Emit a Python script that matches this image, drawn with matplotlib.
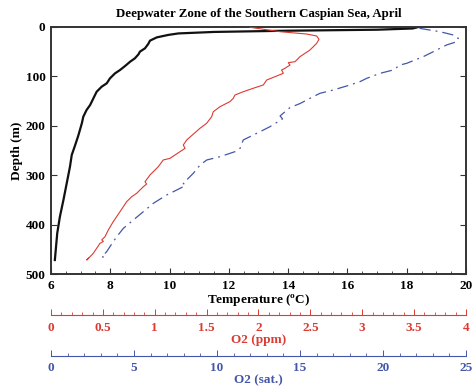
import matplotlib
matplotlib.use("Agg")
import matplotlib.pyplot as plt
from matplotlib import ticker

# Temperature profile (deg C vs depth m)
temp_c = [18.4, 18.2, 17.0, 14.0, 11.5, 10.3, 9.96, 9.57, 9.34, 9.28, 9.17, 9.0,
          8.95, 8.83, 8.67, 8.50, 8.33, 8.16, 7.99, 7.88, 7.71, 7.54, 7.43, 7.32,
          7.20, 7.09, 7.04, 6.92, 6.81, 6.70, 6.64, 6.53, 6.42, 6.30, 6.21, 6.17, 6.13]
temp_depth = [0, 3, 5.5, 7.5, 10, 13, 16, 21, 27.6, 34.4, 43.2, 49.9,
              55.4, 63.4, 70.2, 78.9, 87, 93.8, 103.9, 114, 120.8, 131, 144.4, 157.9,
              168, 181.5, 195, 220, 240, 259, 282.8, 316.4, 350, 384, 417.6, 444.7, 471.7]

# Dissolved oxygen (ppm)
o2_ppm = [1.918, 2.207, 2.464, 2.561, 2.583, 2.561, 2.496, 2.4, 2.352, 2.287, 2.304,
          2.255, 2.223, 2.239, 2.079, 2.046, 1.95, 1.853, 1.773, 1.757, 1.725, 1.629,
          1.564, 1.549, 1.5, 1.436, 1.308, 1.275, 1.292, 1.243, 1.147, 1.082, 1.034,
          0.954, 0.906, 0.922, 0.89, 0.826, 0.778, 0.729, 0.665, 0.6, 0.552, 0.52,
          0.489, 0.505, 0.472, 0.44, 0.408, 0.376, 0.344, 0.36]
o2_ppm_depth = [0.6, 9.5, 14.2, 18.2, 24.9, 33, 46.6, 60, 70.2, 72.2, 77,
                83.6, 87, 93.8, 107.3, 117.4, 124, 131, 137.7, 144.4, 151, 161.3,
                171.5, 181.5, 195, 205, 228.7, 238.9, 245.6, 252.4, 265.8, 269.2, 282.8,
                299.6, 313.2, 317.8, 323.3, 336.6, 343.5, 353.6, 373.9, 394, 411, 424.5,
                431, 434, 437.9, 448, 458, 465, 471.7, 468]

# Dissolved oxygen (saturation)
o2_sat = [22.2, 23.43, 24.24, 24.54, 24.44, 23.83, 23.03, 22.43, 21.43, 21.02, 20.62,
          19.82, 19.02, 18.61, 18.01, 17.01, 16.2, 15.6, 15.0, 14.4, 13.8, 13.95, 13.19,
          12.59, 11.58, 11.39, 11.08, 10.18, 9.38, 8.98, 8.57, 7.97, 8.1, 7.57, 6.97,
          6.16, 5.56, 4.96, 4.36, 3.96, 3.55, 3.35, 3.05, 3.4]
o2_sat_depth = [2.7, 9.5, 16.2, 22.9, 29.8, 36.4, 50, 60, 73.5, 77, 87,
                93.8, 103.9, 110.7, 117.4, 127.5, 134.3, 144.4, 155, 163, 180, 186, 201.8,
                212, 228.7, 245.6, 252.4, 262.5, 269.2, 279.4, 296.2, 316.4, 321, 330, 340,
                357, 373.9, 390.7, 407.5, 424.5, 444.7, 455, 465, 467]

temp_ticks = [6, 8, 10, 12, 14, 16, 18, 20]
depth_ticks = [0, 100, 200, 300, 400, 500]

RED = "#dc3a32"
BLUE = "#4456a8"

plt.rcParams["font.family"] = ["Liberation Serif", "DejaVu Serif"]
plt.rcParams["font.weight"] = "bold"
plt.rcParams["font.size"] = 9.5
plt.rcParams["axes.labelweight"] = "bold"
plt.rcParams["mathtext.default"] = "regular"

fig = plt.figure(figsize=(4.74, 3.89), dpi=100)
ax = fig.add_axes([0.1076, 0.2956, 0.8755, 0.6350])

ax.plot(temp_c, temp_depth, color="#111111", lw=1.6)
ax.set_xlim(6, 20)
ax.set_ylim(500, 0)
ax.set_xticks(temp_ticks)
ax.set_yticks(depth_ticks)
ax.xaxis.set_minor_locator(ticker.MultipleLocator(0.5))
ax.tick_params(direction="in", top=True, right=True, length=4, width=0.8,
               pad=4, color="#333333")
ax.tick_params(which="minor", direction="in", top=True, length=2, width=0.6,
               color="#333333")
for sp in ax.spines.values():
    sp.set_linewidth(1.4)
    sp.set_color("#333333")
ax.set_xlabel("Temperature ($^{o}$C)", labelpad=0)
ax.set_ylabel("Depth (m)", labelpad=2)
ax.set_title("Deepwater Zone of the Southern Caspian Sea, April", fontweight="bold",
             fontsize=9.3, pad=7)

ax_ppm = ax.twiny()
ax_ppm.plot(o2_ppm, o2_ppm_depth, color=RED, lw=0.8)
ax_ppm.set_xlim(0, 4)

ax_sat = ax.twiny()
ax_sat.plot(o2_sat, o2_sat_depth, color=BLUE, lw=0.9, linestyle=(0, (9, 4, 1.5, 4)))
ax_sat.set_xlim(0, 25)

for extra, pos, color, major, minor, label, lpad in [
    (ax_ppm, -0.165, RED, 0.5, 0.1, "O2 (ppm)", 0),
    (ax_sat, -0.33, BLUE, 5, 1, "O2 (sat.)", 0),
]:
    extra.set_ylim(500, 0)
    extra.xaxis.set_ticks_position("bottom")
    extra.xaxis.set_label_position("bottom")
    for name, sp in extra.spines.items():
        sp.set_visible(name == "bottom")
    extra.spines["bottom"].set_position(("axes", pos))
    extra.spines["bottom"].set_color(color)
    extra.spines["bottom"].set_linewidth(0.8)
    extra.xaxis.set_major_locator(ticker.MultipleLocator(major))
    extra.xaxis.set_minor_locator(ticker.MultipleLocator(minor))
    extra.xaxis.set_major_formatter(ticker.FormatStrFormatter("%g"))
    extra.tick_params(axis="x", direction="in", length=4, width=0.7, colors=color,
                      pad=5)
    extra.tick_params(axis="x", which="minor", direction="in", length=2, width=0.6,
                      colors=color)
    extra.set_xlabel(label, color=color, labelpad=lpad)

fig.savefig("out.png", dpi=100)
